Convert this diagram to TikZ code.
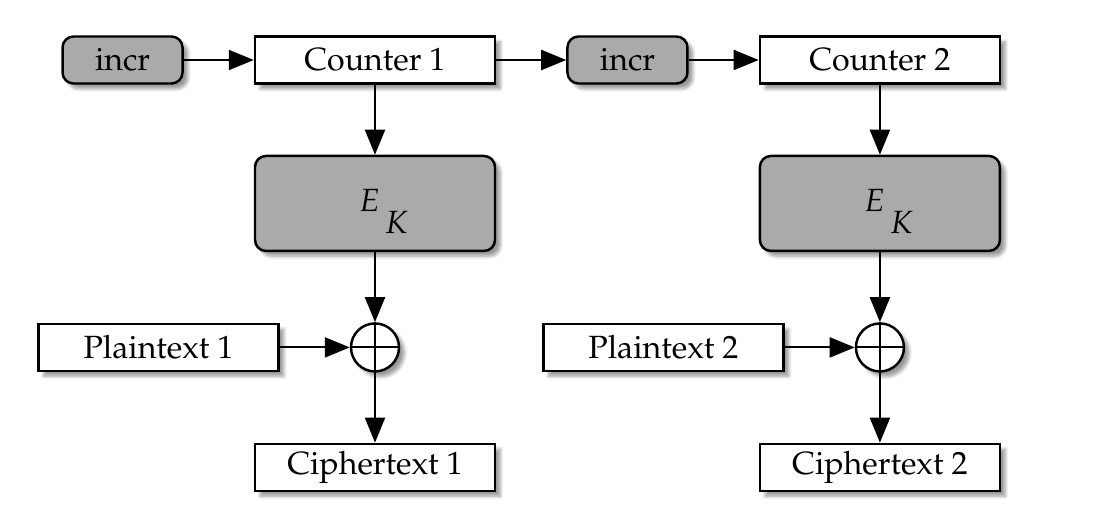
\documentclass[tikz,border=0pt]{standalone}
\usepackage[T1]{fontenc}
\usepackage{mathpazo}
\usepackage{tikz}
\usetikzlibrary{shapes,arrows.meta,positioning,calc,shadows.blur}

\definecolor{boxgray}{RGB}{170,170,170}

\begin{document}
\begin{tikzpicture}[
    node distance=1.4cm,
    font=\fontsize{18.3}{22}\selectfont,
    shade/.style={blur shadow={shadow xshift=3pt, shadow yshift=-3pt, shadow blur steps=6, shadow opacity=40}},
    block/.style={rectangle, draw, line width=1.4pt, fill=white, shade, minimum width=4.8cm, minimum height=0.94cm, align=center},
    incr/.style={rectangle, rounded corners=0.22cm, draw, line width=1.4pt, fill=boxgray, shade, minimum width=2.4cm, minimum height=0.94cm},
    cipher/.style={rectangle, rounded corners=0.22cm, draw, line width=1.4pt, fill=boxgray, shade, minimum width=4.8cm, minimum height=1.9cm, text height=17.4pt, text depth=7.7pt},
    xor/.style={circle, draw, line width=1.4pt, fill=white, shade, minimum size=0.96cm, inner sep=0pt},
    arrow/.style={-{Triangle[length=0.5cm, width=0.4cm]}, line width=1.2pt}
]

\useasboundingbox (0,0) rectangle (22,-10.48);

% first block
\node[block] (ctr1) at (7.5,-1.2) {Counter 1};
\node[incr, left=of ctr1] (incr1) {incr};
\node[cipher, below=of ctr1] (ek1) {\hspace*{0.34cm}$E$\raisebox{-12.5pt}{\,$K$}};
\node[xor, below=of ek1] (xor1) {};
\node[block, left=of xor1] (pt1) {Plaintext 1};
\node[block, below=of xor1] (ct1) {Ciphertext 1};

% second block
\node[incr, right=of ctr1] (incr2) {incr};
\node[block, right=of incr2] (ctr2) {Counter 2};
\node[cipher, below=of ctr2] (ek2) {\hspace*{0.34cm}$E$\raisebox{-12.5pt}{\,$K$}};
\node[xor, below=of ek2] (xor2) {};
\node[block, left=of xor2] (pt2) {Plaintext 2};
\node[block, below=of xor2] (ct2) {Ciphertext 2};

\foreach \i in {1,2} {
    \draw[line width=1.2pt] (xor\i.north) -- (xor\i.south);
    \draw[line width=1.2pt] (xor\i.west) -- (xor\i.east);
    \draw[arrow] (incr\i) -- (ctr\i);
    \draw[arrow] (ctr\i) -- (ek\i);
    \draw[arrow] (ek\i) -- (xor\i);
    \draw[arrow] (pt\i) -- (xor\i);
    \draw[arrow] (xor\i) -- (ct\i);
}
\draw[arrow] (ctr1) -- (incr2);

\end{tikzpicture}
\end{document}
